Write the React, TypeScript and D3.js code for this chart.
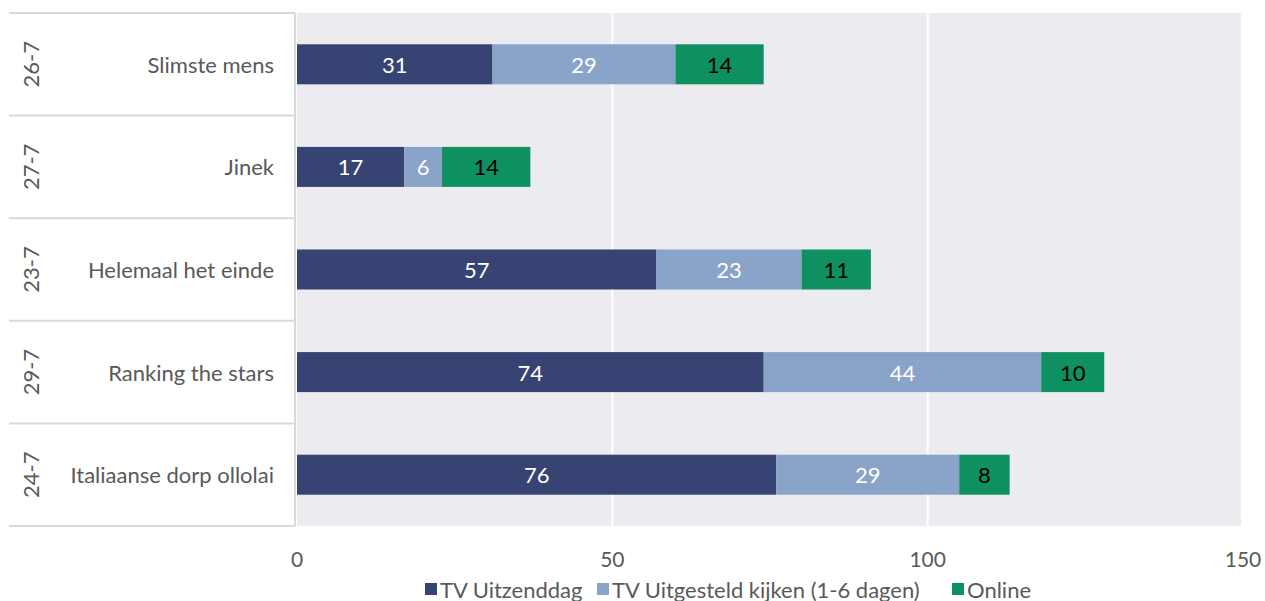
import React from "react";
import * as d3 from "d3";

const programs = ["Slimste mens", "Jinek", "Helemaal het einde", "Ranking the stars", "Italiaanse dorp ollolai"];
const dates = ["26-7", "27-7", "23-7", "29-7", "24-7"];
const seriesNames = ["TV Uitzenddag", "TV Uitgesteld kijken (1-6 dagen)", "Online"];
const uitzenddag = [31, 17, 57, 74, 76];
const uitgesteld = [29, 6, 23, 44, 29];
const online = [14, 14, 11, 10, 8];
const xTicks = [0, 50, 100, 150];

const colors = ["#374372", "#8aa3c8", "#0f9060"];
const labelColors = ["#ffffff", "#ffffff", "#000000"];
const FONT = "Lato, 'Open Sans', sans-serif";

export default function App() {
  const W = 1265, H = 601;
  const left = 297, right = 1241, top = 13, bottom = 526;
  const x = d3.scaleLinear().domain([0, 150]).range([left, 1243]);
  const y = d3.scaleBand().domain(programs).range([top, bottom]).paddingInner(0.61).paddingOuter(0.305);
  const rowBand = d3.scaleBand().domain(programs).range([top, bottom]);
  const table = programs.map((p, i) => ({ p, vals: [uitzenddag[i], uitgesteld[i], online[i]] }));
  const stack = d3.stack<any>().keys(["0", "1", "2"]).value((d: any, k: string) => d.vals[+k]);
  const layers = stack(table);

  const legendX = [425, 597, 952];

  return (
    <svg width={W} height={H} style={{ position: "absolute", left: 0, top: 0, fontFamily: FONT }}>
      <rect x={0} y={0} width={W} height={H} fill="#ffffff" />
      <rect x={left} y={top} width={right - left} height={bottom - top} fill="#ebebf0" />
      {xTicks.slice(1, -1).map((t) => (
        <line key={t} x1={x(t)} x2={x(t)} y1={top} y2={bottom} stroke="#ffffff" strokeWidth={2} />
      ))}
      {programs.map((p, i) => (
        <line key={"sep" + i} x1={9} x2={295} y1={rowBand(p)!} y2={rowBand(p)!} stroke="#d9d9d9" strokeWidth={2} />
      ))}
      <line x1={9} x2={295} y1={bottom} y2={bottom} stroke="#d9d9d9" strokeWidth={2} />
      <line x1={295} x2={295} y1={top} y2={bottom} stroke="#d9d9d9" strokeWidth={2} />
      {programs.map((p, i) => {
        const cy = rowBand(p)! + rowBand.bandwidth() / 2;
        return (
          <g key={"lab" + i}>
            <text x={274} y={cy} textAnchor="end" dominantBaseline="central" fontSize={22} fill="#595959">{p}</text>
            <text transform={`translate(30,${cy}) rotate(-90)`} textAnchor="middle" dominantBaseline="central" fontSize={22} fill="#595959">{dates[i]}</text>
          </g>
        );
      })}
      {layers.map((layer, li) => (
        <g key={"layer" + li}>
          {layer.map((d: any, i: number) => (
            <g key={i}>
              <rect x={x(d[0])} y={y(programs[i])!} width={x(d[1]) - x(d[0])} height={y.bandwidth()} fill={colors[li]} />
              <text x={(x(d[0]) + x(d[1])) / 2} y={y(programs[i])! + y.bandwidth() / 2} textAnchor="middle" dominantBaseline="central" fontSize={22} fill={labelColors[li]}>
                {d[1] - d[0]}
              </text>
            </g>
          ))}
        </g>
      ))}
      {xTicks.map((t) => (
        <text key={"t" + t} x={x(t)} y={558} textAnchor="middle" dominantBaseline="central" fontSize={21} fill="#595959">{t}</text>
      ))}
      {seriesNames.map((s, i) => (
        <g key={"leg" + i}>
          <rect x={legendX[i]} y={583} width={12} height={12} fill={colors[i]} />
          <text x={legendX[i] + 15} y={589} dominantBaseline="central" fontSize={22} fill="#595959">{s}</text>
        </g>
      ))}
    </svg>
  );
}
